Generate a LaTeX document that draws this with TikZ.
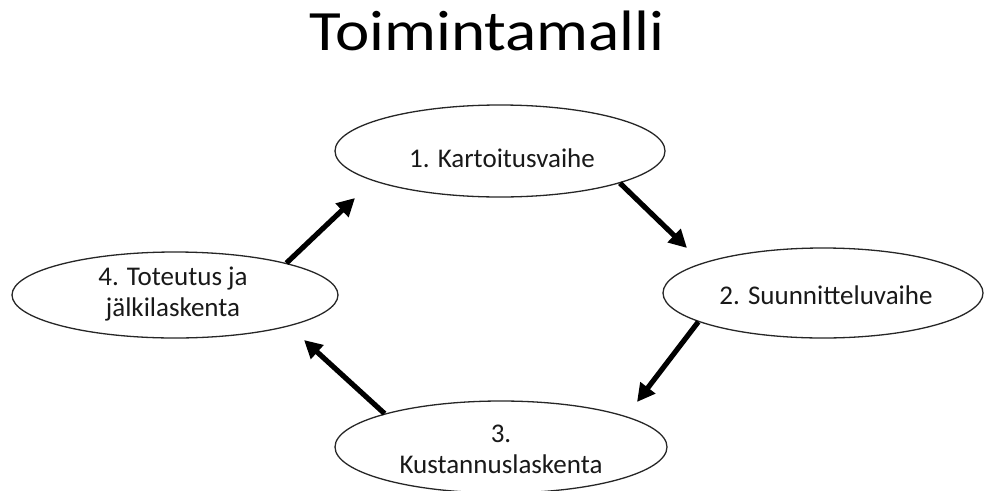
\documentclass[tikz,border=0pt]{standalone}
\usepackage{fontspec}
\setmainfont{Carlito}
\usetikzlibrary{shapes.geometric,arrows.meta}

\tikzset{
  phase/.style={ellipse, draw=black!85, line width=1.3pt, fill=white, inner sep=0pt},
  lbl/.style={inner sep=0pt, align=center, font=\fontsize{27}{31}\selectfont, text=black!90},
  flow/.style={line width=5.2pt, -{Triangle[length=18pt,width=18pt]}, black},
}

\begin{document}
\begin{tikzpicture}[x=1pt,y=-1pt]
  \useasboundingbox (0,0) rectangle (984,490);

  % title, set a little wide
  \node[anchor=base, inner sep=0pt, font=\fontsize{57}{60}\selectfont] (title) at (487,50) {\scalebox{1.14}[1]{Toimintamalli}};

  % the four phases of the cycle
  \node[phase, minimum width=330pt, minimum height=92pt] (e1) at (500,151) {};
  \node[phase, minimum width=320pt, minimum height=90pt] (e2) at (823,293) {};
  \node[phase, minimum width=332pt, minimum height=92pt] (e3) at (501,447) {};
  \node[phase, minimum width=326pt, minimum height=86pt] (e4) at (175,295) {};

  \node[lbl] (l1) at (502,158) {1. Kartoitusvaihe};
  \node[lbl] (l2) at (826,295) {2. Suunnitteluvaihe};
  \node[lbl] (l3) at (501,449) {3.\\Kustannuslaskenta};
  \node[lbl] (l4) at (173,294) {4. Toteutus ja\\jälkilaskenta};

  % arrow tips that stop short of the next phase
  \coordinate (t12) at (687,248);
  \coordinate (t23) at (637,402);
  \coordinate (t34) at (304,340);
  \coordinate (t41) at (355,198);

  \draw[flow] (e1.-15.3) -- (t12);
  \draw[flow] (e2.-167) -- (t23);
  \draw[flow] (e3.164.6) -- (t34);
  \draw[flow] (e4.16) -- (t41);
\end{tikzpicture}
\end{document}
